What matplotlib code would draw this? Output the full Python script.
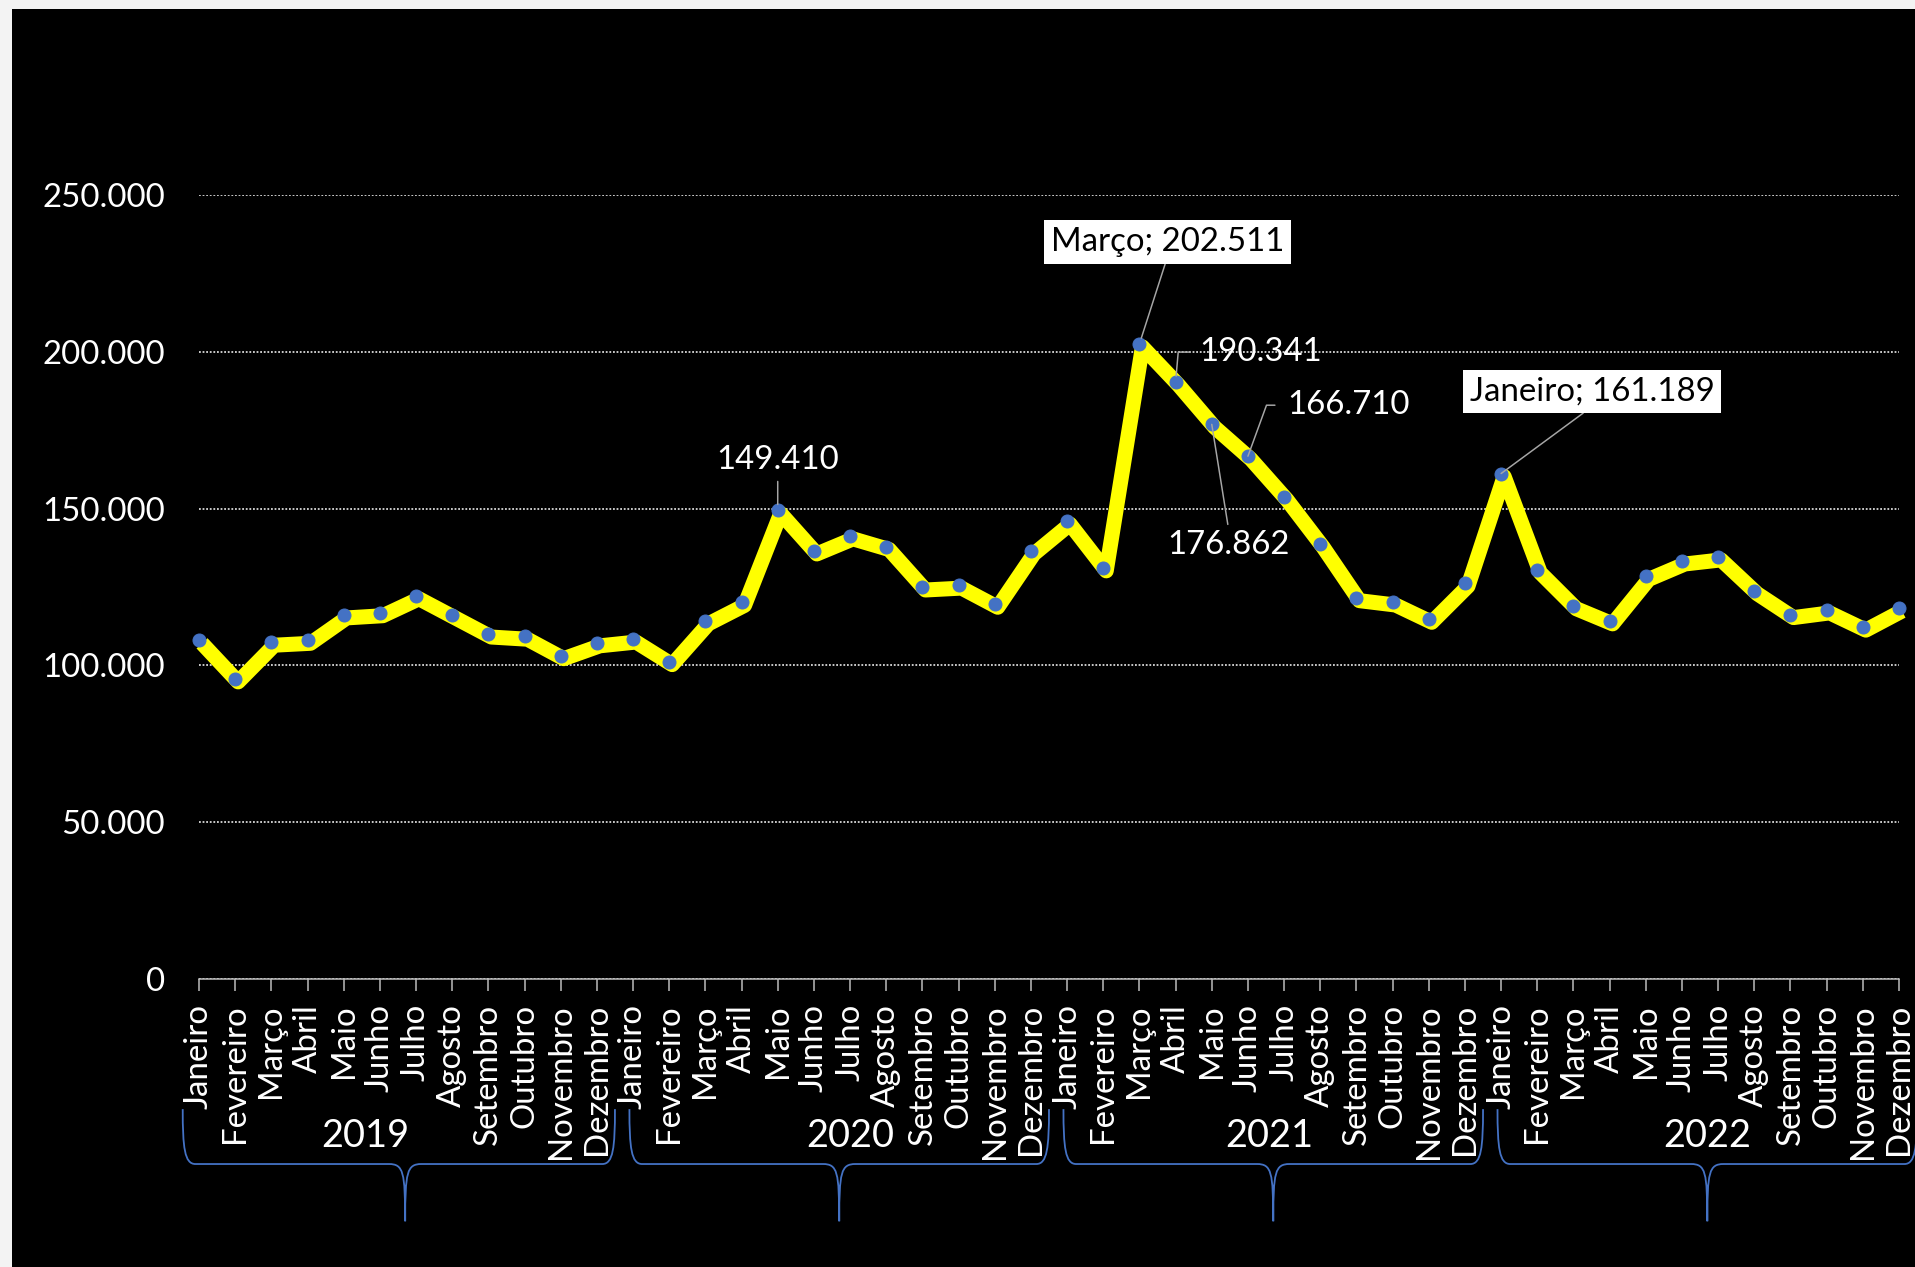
import matplotlib.pyplot as plt
import matplotlib.transforms as mtransforms
from matplotlib.path import Path
from matplotlib.patches import PathPatch, Rectangle
from matplotlib.ticker import FuncFormatter

plt.rcParams['font.family'] = ['Lato', 'DejaVu Sans']

# Data
months = ['Janeiro', 'Fevereiro', 'Março', 'Abril', 'Maio', 'Junho',
          'Julho', 'Agosto', 'Setembro', 'Outubro', 'Novembro', 'Dezembro']
years = ['2019', '2020', '2021', '2022']
values_2019 = [108000, 95700, 107400, 108000, 116100, 116800,
               122200, 116100, 110000, 109300, 103100, 107200]
values_2020 = [108400, 101200, 114200, 120100, 149410, 136500,
               141300, 137900, 125000, 125600, 119500, 136500]
values_2021 = [146000, 131100, 202511, 190341, 176862, 166710,
               153700, 138600, 121600, 120200, 114700, 126200]
values_2022 = [161189, 130500, 119000, 114200, 128400, 133300,
               134600, 123800, 116200, 117700, 112200, 118300]
yticks = [0, 50000, 100000, 150000, 200000, 250000]

values = values_2019 + values_2020 + values_2021 + values_2022
labels = months * len(years)
x = list(range(len(values)))


def fmt(v, pos=None):
    return f'{v:,.0f}'.replace(',', '.')


W, H, DPI = 1915, 1267, 72
fig = plt.figure(figsize=(W / DPI, H / DPI), dpi=DPI, facecolor='#f3f3f3')
fig.patches.append(Rectangle((12 / W, 0), 1, (H - 9) / H, transform=fig.transFigure,
                             facecolor='black', edgecolor='none', zorder=-10))

ax = fig.add_axes([199 / W, (H - 979) / H, 1700 / W, 784 / H])
ax.set_facecolor('black')

# main line, slightly offset like the Excel shadowed line
shift = mtransforms.ScaledTranslation(3 / DPI, -3 / DPI, fig.dpi_scale_trans)
ax.plot(x, values, color='#FFFF00', lw=15, solid_joinstyle='round',
        solid_capstyle='butt', transform=ax.transData + shift, zorder=3, clip_on=False)
ax.plot(x, values, 'o', ms=13, color='#4472C4', mec='#4472C4', zorder=4, clip_on=False)

ax.set_xlim(0, len(values) - 1)
ax.set_ylim(0, 250000)
ax.set_yticks(yticks)
ax.yaxis.set_major_formatter(FuncFormatter(fmt))
ax.set_xticks(x)
ax.set_xticklabels(labels, rotation=90)

ax.yaxis.grid(True, color='#d9d9d9', linestyle=(0, (1, 1)), lw=1.8)
ax.set_axisbelow(True)
for s in ['left', 'right', 'top']:
    ax.spines[s].set_visible(False)
ax.spines['bottom'].set_color('#bfbfbf')
ax.spines['bottom'].set_linewidth(1.5)
ax.tick_params(axis='y', length=0, pad=34, labelsize=33, labelcolor='white')
ax.tick_params(axis='x', length=12, width=1.5, color='#bfbfbf', pad=13,
               labelsize=33, labelcolor='white')

# data labels
lead = dict(arrowstyle='-', color='#a6a6a6', lw=1.5, shrinkA=0, shrinkB=0)
white_box = dict(boxstyle='square,pad=0.2', fc='white', ec='none')


def val(i):
    return values[i]


i = 12 + 4  # Maio 2020
ax.annotate(fmt(val(i)), (i, val(i)), xytext=(0, 50), textcoords='offset points',
            ha='center', va='center', fontsize=33, color='white',
            arrowprops=dict(lead, shrinkA=4, shrinkB=6), zorder=5)

i = 24 + 2  # Março 2021
ax.annotate(f'{months[2]}; {fmt(val(i))}', (i, val(i)), xytext=(28, 102),
            textcoords='offset points', ha='center', va='center', fontsize=33,
            color='black', bbox=white_box,
            arrowprops=dict(lead, relpos=(0.5, 0), shrinkB=6), zorder=5)

i = 24 + 3  # Abril 2021
ax.annotate(fmt(val(i)), (i, val(i)), xytext=(24, 30), textcoords='offset points',
            ha='left', va='center', fontsize=33, color='white',
            arrowprops=dict(lead, relpos=(0, 0.5), shrinkA=8, shrinkB=6,
                            connectionstyle='angle,angleA=0,angleB=85,rad=0'), zorder=5)

i = 24 + 4  # Maio 2021
ax.annotate(fmt(val(i)), (i, val(i)), xytext=(17, -121), textcoords='offset points',
            ha='center', va='center', fontsize=33, color='white',
            arrowprops=dict(lead, relpos=(0.5, 1), shrinkA=4, shrinkB=0), zorder=5)

i = 24 + 5  # Junho 2021
ax.annotate(fmt(val(i)), (i, val(i)), xytext=(39, 51), textcoords='offset points',
            ha='left', va='center', fontsize=33, color='white',
            arrowprops=dict(lead, relpos=(0, 0.5), shrinkA=10, shrinkB=0,
                            connectionstyle='angle,angleA=0,angleB=70,rad=0'), zorder=5)

i = 36  # Janeiro 2022
ax.annotate(f'{months[0]}; {fmt(val(i))}', (i, val(i)), xytext=(91, 82),
            textcoords='offset points', ha='center', va='center', fontsize=33,
            color='black', bbox=white_box,
            arrowprops=dict(lead, relpos=(0.5, 0), shrinkB=0), zorder=5)

# year braces and labels under the month labels
blend = mtransforms.blended_transform_factory(ax.transData, ax.transAxes)
top, hy, tip = -0.166, -0.236, -0.309
year_label_x = [4.6, 18.0, 29.6, 41.7]
for k, yr in enumerate(years):
    start = 12 * k
    L = start - (0.45 if k == 0 else 0.1)
    R, C = start + 11.5, start + 5.7
    r, w = 0.35, 0.45
    verts = [(L, top),
             (L, hy + 0.3 * (top - hy)), (L + 0.05, hy), (L + r, hy),
             (C - w, hy),
             (C - 0.05, hy), (C, hy - 0.01), (C, tip),
             (C, hy - 0.01), (C + 0.05, hy), (C + w, hy),
             (R - r, hy),
             (R - 0.05, hy), (R, hy + 0.3 * (top - hy)), (R, top)]
    codes = [Path.MOVETO,
             Path.CURVE4, Path.CURVE4, Path.CURVE4,
             Path.LINETO,
             Path.CURVE4, Path.CURVE4, Path.CURVE4,
             Path.CURVE4, Path.CURVE4, Path.CURVE4,
             Path.LINETO,
             Path.CURVE4, Path.CURVE4, Path.CURVE4]
    ax.add_patch(PathPatch(Path(verts, codes), transform=blend, fill=False,
                           ec='#4472C4', lw=1.8, clip_on=False))
    ax.text(year_label_x[k], -0.2, yr, transform=blend, ha='center', va='center',
            fontsize=38, color='white')

fig.savefig('out.png', dpi=DPI, facecolor=fig.get_facecolor())
